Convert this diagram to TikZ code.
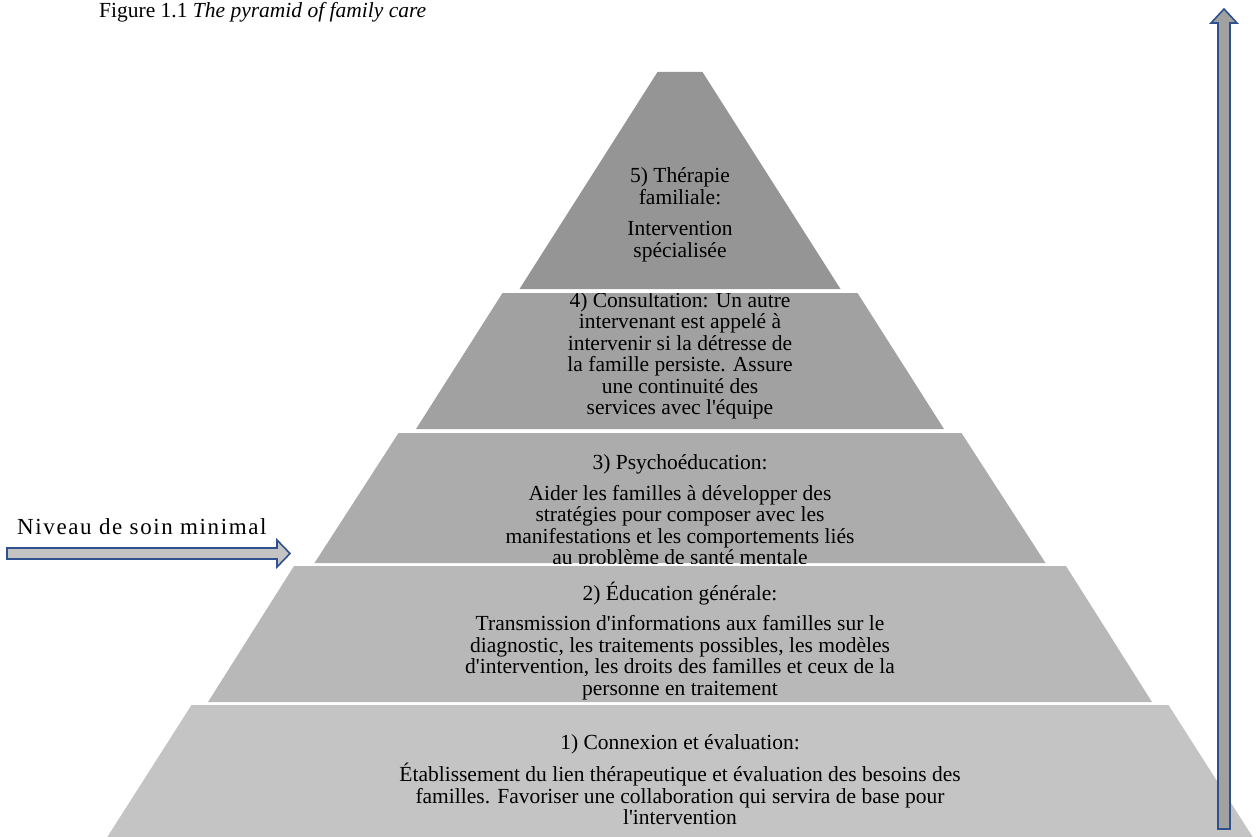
\documentclass[tikz,border=0pt]{standalone}
\usepackage{fontspec}
\setmainfont{Liberation Serif}[Ligatures=TeXOff]
\definecolor{arrowblue}{RGB}{47,82,143}
\definecolor{gfive}{RGB}{149,149,149}
\definecolor{gfour}{RGB}{161,161,161}
\definecolor{gthree}{RGB}{172,172,172}
\definecolor{gtwo}{RGB}{184,184,184}
\definecolor{gone}{RGB}{196,196,196}
\newcommand\lyrpath[4]{(680-#2,#1) -- (680+#2,#1) -- (680+#4,#3) -- (680-#4,#3) -- cycle}
\begin{document}
\begin{tikzpicture}[x=1pt,y=-1pt,
  lbl/.style={align=center, inner sep=0pt, font=\fontsize{21.5}{21.5}\selectfont},
  blockarrow/.style={draw=arrowblue, line width=1.6pt, line join=miter},
  titletext/.style={inner sep=0pt, anchor=base west, font=\fontsize{21.5}{24}\selectfont}]
\useasboundingbox (0,0) rectangle (1257,837);
\clip (0,0) rectangle (1257,837);
% title
\node[titletext] (title) at (99,18) {Figure 1.1 \textit{The pyramid of family care}};
% layers
\fill[gfive]  \lyrpath{72}{22.5}{289}{160.5};
\fill[gfour]  \lyrpath{293}{177.5}{429}{264};
\fill[gthree] \lyrpath{433}{281.5}{563}{365.5};
\fill[gtwo]   \lyrpath{566}{386}{702}{472};
\fill[gone]   \lyrpath{705}{488.5}{850}{581};
% texts
\begin{scope}
\clip \lyrpath{72}{22.5}{289}{160.5};
\node[lbl] (t5) at (680,215) {5) Thérapie\\familiale:\\[10pt]Intervention\\spécialisée};
\end{scope}
\begin{scope}
\clip \lyrpath{293}{177.5}{429}{264};
\node[lbl] (t4) at (680,356) {4) Consultation: Un autre\\intervenant est appelé à\\intervenir si la détresse de\\la famille persiste. Assure\\une continuité des\\services avec l'équipe};
\end{scope}
\begin{scope}
\clip \lyrpath{433}{281.5}{563}{365.5};
\node[lbl] (t3) at (680,512) {3) Psychoéducation:\\[9pt]Aider les familles à développer des\\stratégies pour composer avec les\\manifestations et les comportements liés\\au problème de santé mentale};
\end{scope}
\begin{scope}
\clip \lyrpath{566}{386}{702}{472};
\node[lbl] (t2) at (680,641) {2) Éducation générale:\\[9pt]Transmission d'informations aux familles sur le\\diagnostic, les traitements possibles, les modèles\\d'intervention, les droits des familles et ceux de la\\personne en traitement};
\end{scope}
\begin{scope}
\clip \lyrpath{705}{488.5}{850}{581};
\node[lbl] (t1) at (680,780) {1) Connexion et évaluation:\\[8pt]Établissement du lien thérapeutique et évaluation des besoins des\\familles. Favoriser une collaboration qui servira de base pour\\l'intervention};
\end{scope}
% left arrow
\node[inner sep=0pt, anchor=base west, font=\fontsize{23}{24}\selectfont\addfontfeature{LetterSpace=7}] (lvl) at (17,534) {Niveau de soin minimal};
\coordinate (ltip) at (290,553.5);
\draw[blockarrow, fill=gone] (7,548) -- (277,548) -- (277,540) -- (ltip) -- (277,567) -- (277,559) -- (7,559) -- cycle;
% right arrow
\coordinate (rtip) at (1224,9);
\draw[blockarrow, fill=gfour] (1218,829) -- (1218,23) -- (1211,23) -- (rtip) -- (1237,23) -- (1230,23) -- (1230,829) -- cycle;
\end{tikzpicture}
\end{document}
